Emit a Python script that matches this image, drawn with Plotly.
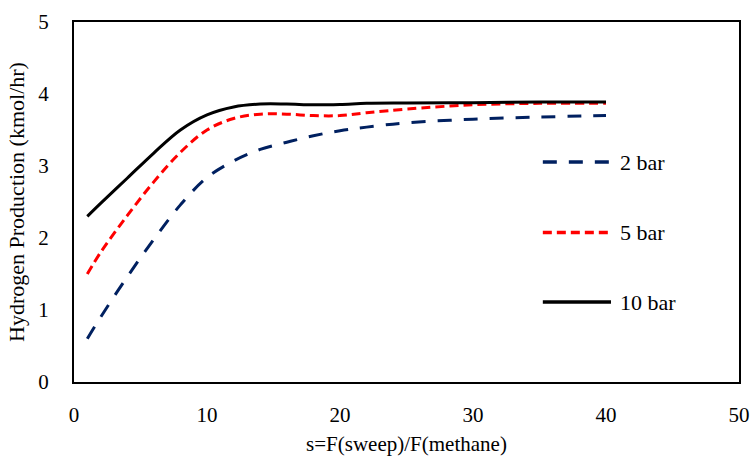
import plotly.graph_objects as go

# Sweep ratio s = F(sweep)/F(methane)
s_values = [1, 2, 4, 6, 8, 10, 12, 14, 16, 18, 20, 22, 25, 30, 35, 40]

# Hydrogen production (kmol/hr) at each pressure
h2_2bar = [0.60, 0.90, 1.46, 1.98, 2.46, 2.84, 3.07, 3.23, 3.33, 3.42, 3.49, 3.54, 3.60, 3.65, 3.68, 3.70]
h2_5bar = [1.50, 1.80, 2.31, 2.78, 3.19, 3.50, 3.66, 3.72, 3.72, 3.70, 3.70, 3.74, 3.79, 3.85, 3.87, 3.87]
h2_10bar = [2.30, 2.48, 2.83, 3.18, 3.50, 3.71, 3.82, 3.86, 3.86, 3.85, 3.855, 3.87, 3.875, 3.88, 3.89, 3.89]

series_names = ["2 bar", "5 bar", "10 bar"]
series_colors = ["#002060", "#ff0000", "#000000"]
series_dashes = ["14px,12px", "9px,5px", "solid"]
series_values = [h2_2bar, h2_5bar, h2_10bar]

x_ticks = [0, 10, 20, 30, 40, 50]
y_ticks = [0, 1, 2, 3, 4, 5]

serif = "Liberation Serif, Times New Roman, serif"

fig = go.Figure()
for name, color, dash, ys in zip(series_names, series_colors, series_dashes, series_values):
    fig.add_trace(go.Scatter(
        x=s_values, y=ys, name=name, mode="lines",
        line=dict(color=color, width=3, dash=dash, shape="spline", smoothing=1.0),
        showlegend=False,
    ))

# Legend drawn as sample lines with labels inside the plot area
legend_y = [0.611, 0.4156, 0.222]
for name, color, dash, ly in zip(series_names, series_colors, series_dashes, legend_y):
    fig.add_shape(type="line", xref="paper", yref="paper",
                  x0=0.705, x1=0.8075, y0=ly, y1=ly,
                  line=dict(color=color, width=3.5, dash=dash))
    fig.add_annotation(xref="paper", yref="paper", x=0.818, y=ly,
                       text=name, showarrow=False, xanchor="left", yanchor="middle",
                       font=dict(family=serif, size=22, color="#000000"))

fig.update_layout(
    width=753, height=456,
    margin=dict(l=74, r=14, t=22, b=74),
    paper_bgcolor="white", plot_bgcolor="white",
    font=dict(family=serif, size=21, color="#000000"),
    xaxis=dict(
        range=[0, 50], tickvals=x_ticks, showgrid=False, zeroline=False,
        showline=True, linecolor="black", linewidth=2, mirror=True,
        ticks="", ticklabelstandoff=13, automargin=False,
        tickfont=dict(family=serif, size=21),
        title=dict(text="s=F(sweep)/F(methane)", font=dict(family=serif, size=21), standoff=14),
    ),
    yaxis=dict(
        range=[0, 5], tickvals=y_ticks, showgrid=False, zeroline=False,
        showline=True, linecolor="black", linewidth=2, mirror=True,
        ticks="", ticklabelstandoff=19, automargin=False,
        tickfont=dict(family=serif, size=21),
        title=dict(text="Hydrogen Production (kmol/hr)", font=dict(family=serif, size=22), standoff=8),
    ),
)

fig.write_html("out.html")
